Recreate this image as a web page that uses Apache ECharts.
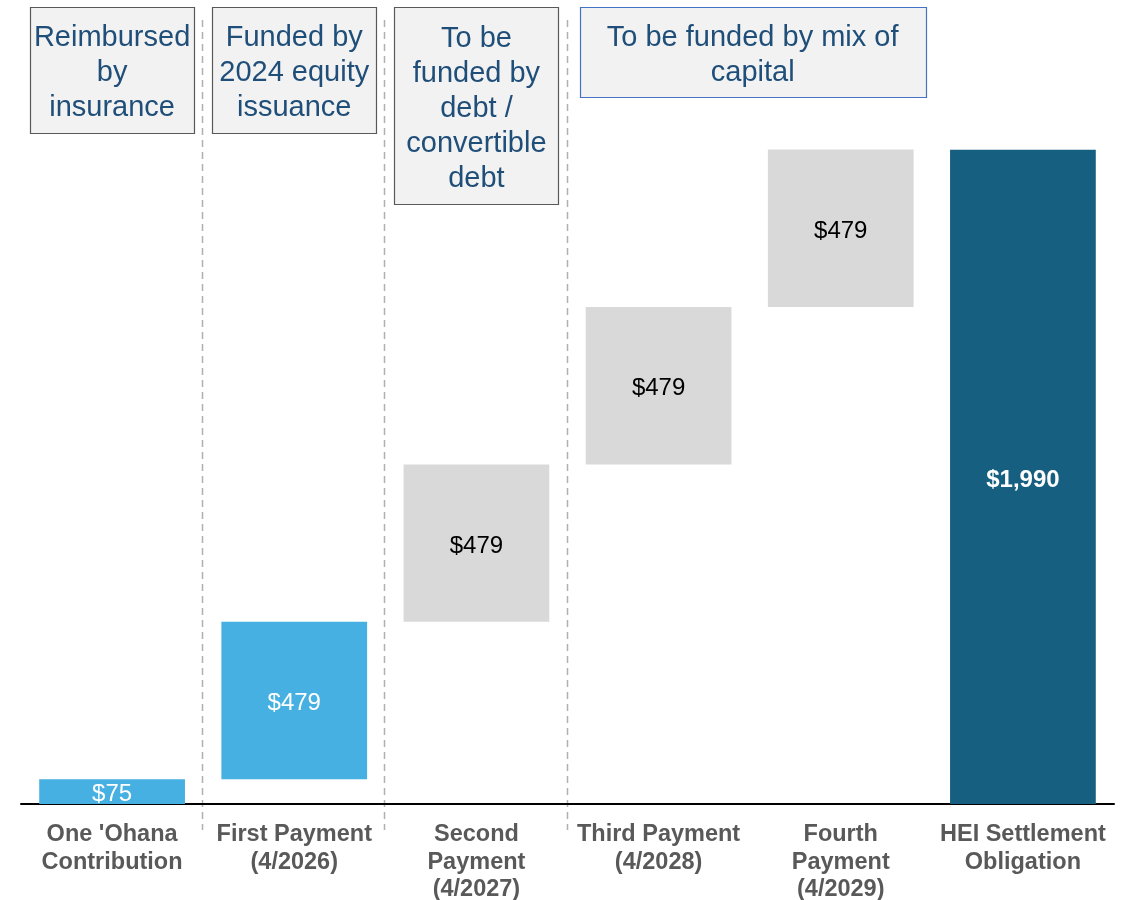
<!DOCTYPE html>
<html>
<head>
<meta charset="utf-8">
<script src="https://cdn.jsdelivr.net/npm/echarts@6/dist/echarts.min.js"></script>
<style>
    html, body { margin: 0; padding: 0; background: #fff; }
    #chart { width: 1128px; height: 900px; }
</style>
</head>
<body>
<div id="chart"></div>
<script>
    // categories and values ($M)
    const categories = [
        "One 'Ohana\nContribution",
        'First Payment\n(4/2026)',
        'Second\nPayment\n(4/2027)',
        'Third Payment\n(4/2028)',
        'Fourth\nPayment\n(4/2029)',
        'HEI Settlement\nObligation'
    ];
    const amounts = [75, 479, 479, 479, 479, 1990];
    const isTotal = [false, false, false, false, false, true];
    const barColors = ['#45b0e1', '#45b0e1', '#d9d9d9', '#d9d9d9', '#d9d9d9', '#175f80'];
    const labelColors = ['#fff', '#fff', '#000', '#000', '#000', '#fff'];

    // funding notes above the bars: [first category, last category, text, box height, border]
    const notes = [
        [0, 0, 'Reimbursed\nby\ninsurance', 126, '#595959'],
        [1, 1, 'Funded by\n2024 equity\nissuance', 126, '#595959'],
        [2, 2, 'To be\nfunded by\ndebt /\nconvertible\ndebt', 197, '#595959'],
        [3, 4, 'To be funded by mix of\ncapital', 90, '#4472c4']
    ];
    // separators drawn after these categories
    const dividers = [0, 1, 2];

    // waterfall offsets: running total for steps, zero for totals
    const offsets = [];
    let running = 0;
    amounts.forEach(function (v, i) {
        if (isTotal[i]) {
            offsets.push(0);
        } else {
            offsets.push(running);
            running += v;
        }
    });

    const chart = echarts.init(document.getElementById('chart'));

    const option = {
        animation: false,
        textStyle: { fontFamily: 'Liberation Sans, Arial, sans-serif' },
        grid: { left: 21, right: 14, top: 15, bottom: 96, outerBoundsMode: 'none' },
        xAxis: {
            type: 'category',
            data: categories,
            axisTick: { show: false },
            axisLine: { lineStyle: { color: '#000', width: 2 } },
            axisLabel: {
                interval: 0,
                margin: 17,
                color: '#595959',
                fontWeight: 'bold',
                fontSize: 23.5,
                lineHeight: 27.5
            }
        },
        yAxis: {
            type: 'value',
            min: 0,
            max: 2400,
            show: false,
            splitLine: { show: false }
        },
        series: [
            {
                type: 'bar',
                stack: 'w',
                silent: true,
                itemStyle: { color: 'transparent' },
                data: offsets
            },
            {
                type: 'bar',
                stack: 'w',
                barWidth: '80%',
                data: amounts.map(function (v, i) {
                    return {
                        value: v,
                        itemStyle: { color: barColors[i] },
                        label: {
                            color: labelColors[i],
                            fontWeight: isTotal[i] ? 'bold' : 'normal'
                        }
                    };
                }),
                label: {
                    show: true,
                    position: 'inside',
                    offset: [0, 3],
                    fontSize: 24,
                    formatter: function (p) {
                        return '$' + p.value.toLocaleString('en-US');
                    }
                }
            }
        ]
    };
    chart.setOption(option);

    // annotations placed from the category scale
    function catX(i) {
        return chart.convertToPixel({ xAxisIndex: 0 }, i);
    }
    const step = catX(1) - catX(0);
    const graphics = [];

    dividers.forEach(function (i) {
        const x = Math.round((catX(i) + catX(i + 1)) / 2) - 0.5;
        graphics.push({
            type: 'line',
            silent: true,
            shape: { x1: x, y1: 20, x2: x, y2: 830 },
            style: { stroke: '#b0b0b0', lineWidth: 1.5, lineDash: [7, 5] }
        });
    });

    notes.forEach(function (n) {
        const span = n[0] === n[1] ? 0 : 3;
        const cx = (catX(n[0]) + catX(n[1])) / 2 + span;
        const w = n[0] === n[1] ? step * 0.9 : step * 1.9;
        const h = n[3];
        graphics.push({
            type: 'rect',
            silent: true,
            shape: { x: Math.round(cx - w / 2) + 0.5, y: 7.5, width: Math.round(w), height: h },
            style: { fill: '#f2f2f2', stroke: n[4], lineWidth: 1.2 }
        });
        graphics.push({
            type: 'text',
            silent: true,
            x: cx,
            y: 10 + h / 2,
            style: {
                text: n[2],
                fill: '#1f4e79',
                font: '29px "Liberation Sans", Arial, sans-serif',
                lineHeight: 35,
                align: 'center',
                verticalAlign: 'middle'
            }
        });
    });

    chart.setOption({ graphic: graphics });
    window.addEventListener('resize', chart.resize);
</script>
</body>
</html>
